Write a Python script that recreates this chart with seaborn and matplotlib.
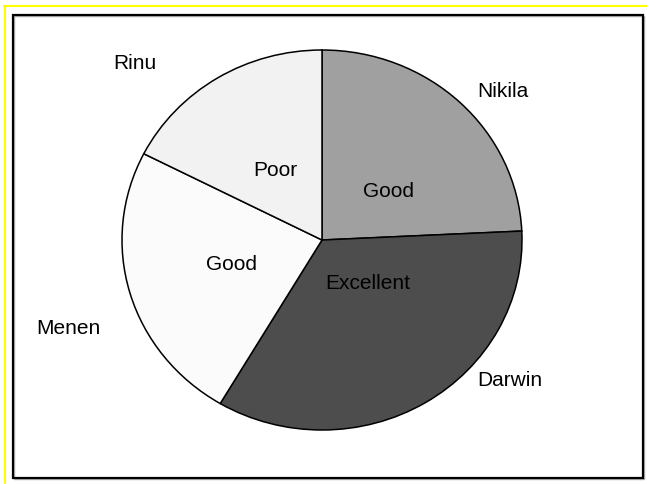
import matplotlib
matplotlib.use("Agg")
import matplotlib.pyplot as plt
import seaborn as sns
import numpy as np
from matplotlib.lines import Line2D
from matplotlib.patches import Rectangle

# data
names = ["Nikila", "Darwin", "Menen", "Rinu"]
ratings = ["Good", "Excellent", "Good", "Poor"]
values = [24.25, 34.25, 24, 17.5]

# style
colors = ["#a0a0a0", "#4d4d4d", "#fbfbfb", "#f2f2f2"]
name_angles = [41, -38, 200, 135]      # degrees, placement of outer labels
name_radius = [1.20, 1.19, 1.35, 1.32]
rating_angles = [38, -45, 195, 122]
rating_radius = [0.42, 0.32, 0.47, 0.44]

sns.set_theme(style="white")
plt.rcParams["font.family"] = ["Liberation Sans", "DejaVu Sans"]

fig = plt.figure(figsize=(6.47, 4.85), dpi=100)
ax = fig.add_axes([22 / 647, 16 / 485, 600 / 647, 456 / 485])

wedges, _ = ax.pie(values, colors=colors, startangle=90, counterclock=False,
                   wedgeprops=dict(edgecolor="black", linewidth=1.1))
ax.set_aspect("auto")
ax.set_xlim(-1.5, 1.5)
ax.set_ylim(-1.2, 1.2)
ax.axis("off")

for nm, a, r in zip(names, name_angles, name_radius):
    t = np.deg2rad(a)
    ax.text(r * np.cos(t), r * np.sin(t), nm, ha="center", va="center",
            fontsize=15, color="black")
for rt, a, r in zip(ratings, rating_angles, rating_radius):
    t = np.deg2rad(a)
    ax.text(r * np.cos(t), r * np.sin(t), rt, ha="center", va="center",
            fontsize=15, color="black")

W, H = 647, 485
def fx(x): return x / W
def fy(y): return 1 - y / H

# yellow border lines
fig.add_artist(Line2D([fx(4), fx(647)], [fy(7), fy(7)], color="#ffff00", lw=1.5))
fig.add_artist(Line2D([fx(5), fx(5)], [fy(7), fy(484)], color="#ffff00", lw=1.5))

# shadow then black frame
fig.add_artist(Rectangle((fx(14), fy(480)), fx(643) - fx(13), fy(16) - fy(479),
                         fill=False, edgecolor="#b0b0b0", lw=1.0))
fig.add_artist(Rectangle((fx(13), fy(479)), fx(643) - fx(13), fy(16) - fy(479),
                         fill=False, edgecolor="black", lw=1.6))

fig.savefig("out.png", dpi=100)
